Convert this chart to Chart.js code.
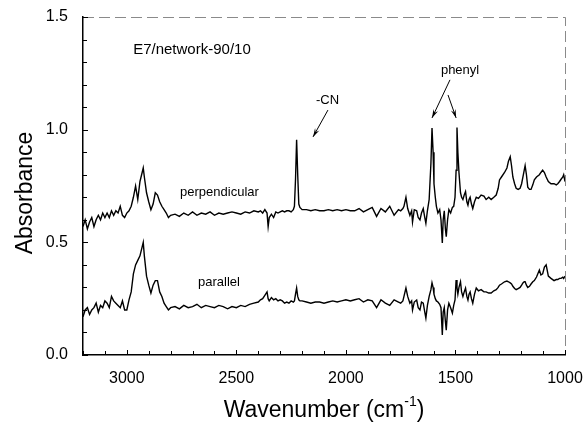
<!DOCTYPE html>
<html>
<head>
<meta charset="utf-8">
<script src="https://cdn.jsdelivr.net/npm/chart.js@4.4.1/dist/chart.umd.min.js"></script>
<style>
  body { margin: 0; background: #fff; }
  #wrap { width: 584px; height: 426px; }
</style>
</head>
<body>
<div id="wrap"><canvas id="irChart"></canvas></div>
<script>
// wavenumber grid (cm-1)
const wavenumbers = [
  3200,3190,3180,3170,3160,3150,3140,3130,3120,3110,3100,3090,3080,3070,3060,3050,3040,3030,3020,3010,
  3000,2990,2980,2970,2960,2950,2940,2930,2925,2920,2910,2900,2890,2880,2870,2860,2850,2840,2830,2820,2810,2800,
  2780,2760,2740,2720,2700,2680,2660,2640,2620,2600,2580,2560,2540,2520,2500,2480,2460,2440,2420,
  2400,2390,2380,2370,2360,2355,2350,2340,2330,2320,2310,2300,2290,2280,2270,2260,2250,2240,2235,2230,2225,2220,2215,2210,2200,
  2180,2160,2140,2120,2100,2080,2060,2040,2020,2000,1980,1960,1940,1920,1900,1880,1860,1840,1820,1800,1780,1760,
  1750,1740,1735,1726,1718,1708,1700,1696,1688,1677,1670,1662,1655,1647,1640,1635,1628,1620,1612,1607,
  1602,1598,1592,1587,1580,1572,1566,1560,1556,1551,1546,1542,1536,1530,1522,1514,1508,1502,1497,1493,
  1489,1484,1477,1472,1466,1460,1454,1448,1443,1438,1433,1427,1421,1413,1405,1395,1383,1370,1360,1348,
  1337,1325,1314,1305,1299,1290,1276,1265,1258,1250,1244,1238,1230,1223,1214,1205,1198,1192,1186,1182,
  1176,1170,1162,1155,1147,1140,1130,1117,1110,1102,1094,1086,1076,1064,1050,1040,1033,1025,1018,1010,
  1006,1000
];

const perpendicular = [
  0.57,0.60,0.56,0.59,0.61,0.57,0.60,0.62,0.60,0.63,0.61,0.63,0.61,0.64,0.62,0.64,0.63,0.66,0.62,0.61,
  0.63,0.64,0.66,0.70,0.75,0.69,0.77,0.81,0.83,0.79,0.72,0.68,0.645,0.67,0.72,0.71,0.68,0.66,0.645,0.63,0.61,0.62,
  0.625,0.615,0.63,0.62,0.635,0.62,0.63,0.625,0.635,0.62,0.63,0.625,0.63,0.635,0.63,0.625,0.635,0.63,0.64,
  0.635,0.64,0.63,0.645,0.63,0.57,0.61,0.625,0.61,0.635,0.63,0.635,0.64,0.635,0.64,0.64,0.635,0.645,0.66,0.78,0.955,0.80,0.67,0.655,0.645,
  0.645,0.64,0.645,0.64,0.64,0.645,0.64,0.645,0.64,0.645,0.64,0.64,0.65,0.635,0.645,0.655,0.615,0.65,0.635,0.66,0.62,0.645,
  0.64,0.65,0.66,0.70,0.65,0.62,0.64,0.59,0.645,0.64,0.61,0.60,0.63,0.65,0.61,0.585,0.64,0.69,0.85,1.007,
  0.90,0.76,0.70,0.66,0.63,0.645,0.60,0.497,0.60,0.64,0.56,0.525,0.60,0.645,0.63,0.655,0.66,0.70,0.82,1.01,
  0.90,0.81,0.72,0.70,0.69,0.71,0.725,0.68,0.665,0.69,0.70,0.67,0.65,0.68,0.70,0.695,0.71,0.705,0.69,0.70,
  0.69,0.70,0.71,0.74,0.777,0.79,0.81,0.83,0.86,0.88,0.84,0.79,0.76,0.74,0.735,0.74,0.76,0.79,0.82,0.84,
  0.80,0.745,0.735,0.735,0.755,0.777,0.79,0.80,0.81,0.82,0.81,0.79,0.77,0.76,0.76,0.755,0.76,0.77,0.78,0.79,
  0.80,0.77
];

const parallel = [
  0.17,0.20,0.21,0.18,0.20,0.21,0.23,0.19,0.22,0.21,0.24,0.23,0.21,0.26,0.24,0.23,0.22,0.21,0.24,0.20,
  0.20,0.245,0.28,0.36,0.40,0.42,0.44,0.48,0.50,0.44,0.35,0.31,0.275,0.31,0.33,0.33,0.28,0.26,0.23,0.215,0.20,0.21,
  0.215,0.205,0.22,0.21,0.215,0.225,0.21,0.22,0.215,0.21,0.22,0.215,0.205,0.215,0.21,0.22,0.215,0.225,0.23,
  0.235,0.245,0.25,0.265,0.28,0.25,0.24,0.255,0.245,0.25,0.24,0.245,0.24,0.23,0.235,0.23,0.24,0.235,0.24,0.27,0.297,0.26,0.245,0.24,0.24,
  0.235,0.23,0.235,0.235,0.23,0.235,0.24,0.235,0.24,0.245,0.24,0.245,0.25,0.235,0.245,0.24,0.21,0.245,0.23,0.22,0.245,0.235,
  0.23,0.24,0.26,0.297,0.26,0.23,0.24,0.20,0.235,0.244,0.21,0.20,0.235,0.23,0.19,0.164,0.22,0.26,0.29,0.32,
  0.30,0.27,0.25,0.24,0.235,0.225,0.21,0.089,0.19,0.21,0.15,0.11,0.20,0.23,0.21,0.186,0.22,0.244,0.333,0.30,
  0.27,0.30,0.325,0.28,0.26,0.28,0.297,0.26,0.244,0.27,0.28,0.25,0.23,0.27,0.297,0.285,0.29,0.28,0.28,0.275,
  0.275,0.285,0.29,0.30,0.31,0.315,0.325,0.328,0.325,0.32,0.315,0.305,0.295,0.29,0.295,0.30,0.31,0.32,0.325,0.325,
  0.31,0.30,0.305,0.315,0.325,0.33,0.346,0.377,0.355,0.36,0.39,0.40,0.35,0.34,0.33,0.335,0.335,0.34,0.34,0.345,
  0.34,0.35
];

if (perpendicular.length !== wavenumbers.length || parallel.length !== wavenumbers.length) {
  throw new Error('length mismatch ' + wavenumbers.length + ' ' + perpendicular.length + ' ' + parallel.length);
}

const FONT = '"Liberation Sans", Arial, sans-serif';

// puntos x/y para el grafico lineal
const puntosPerp = wavenumbers.map((w, i) => ({ x: w, y: perpendicular[i] }));
const puntosPara = wavenumbers.map((w, i) => ({ x: w, y: parallel[i] }));

const esMayor = (v, paso) => Math.abs(v / paso - Math.round(v / paso)) < 1e-6;

// ticks hacia adentro, marco gris, titulos y anotaciones
const decoracion = {
  id: 'decoracion',
  afterDraw(chart) {
    const { ctx, chartArea: a, scales: { x, y } } = chart;
    ctx.save();

    // marco superior/derecho gris discontinuo
    ctx.strokeStyle = '#8a8a8a';
    ctx.lineWidth = 1;
    ctx.setLineDash([11, 5]);
    ctx.beginPath();
    ctx.moveTo(a.left, a.top + 0.5);
    ctx.lineTo(a.right + 0.5, a.top + 0.5);
    ctx.lineTo(a.right + 0.5, a.bottom);
    ctx.stroke();
    ctx.setLineDash([]);

    ctx.strokeStyle = '#000';
    ctx.lineWidth = 1;
    x.ticks.forEach(t => {
      const px = Math.round(x.getPixelForValue(t.value)) + 0.5;
      const len = esMayor(t.value, 500) ? 5 : 4;
      ctx.beginPath();
      ctx.moveTo(px, a.bottom);
      ctx.lineTo(px, a.bottom - len);
      ctx.stroke();
    });
    y.ticks.forEach(t => {
      const py = Math.round(y.getPixelForValue(t.value)) + 0.5;
      const len = esMayor(t.value, 0.5) ? 5 : 4;
      ctx.beginPath();
      ctx.moveTo(a.left, py);
      ctx.lineTo(a.left + len, py);
      ctx.stroke();
    });

    // titulos de ejes
    ctx.fillStyle = '#000';
    ctx.textBaseline = 'middle';
    ctx.save();
    ctx.translate(26, 193);
    ctx.rotate(-Math.PI / 2);
    ctx.textAlign = 'center';
    ctx.font = `23px ${FONT}`;
    ctx.fillText('Absorbance', 0, 0);
    ctx.restore();

    ctx.font = `23px ${FONT}`;
    const p1 = 'Wavenumber (cm', p3 = ')';
    const w1 = ctx.measureText(p1).width;
    const w3 = ctx.measureText(p3).width;
    ctx.font = `14px ${FONT}`;
    const w2 = ctx.measureText('-1').width;
    const total = w1 + w2 + w3;
    let xx = (a.left + a.right) / 2 - total / 2;
    const yy = 411;
    ctx.textAlign = 'left';
    ctx.font = `23px ${FONT}`;
    ctx.fillText(p1, xx, yy);
    ctx.font = `14px ${FONT}`;
    ctx.fillText('-1', xx + w1, yy - 9);
    ctx.font = `23px ${FONT}`;
    ctx.fillText(p3, xx + w1 + w2, yy);

    // anotaciones en coordenadas de datos
    const txt = (s, wx, wy, size, align) => {
      ctx.font = `${size}px ${FONT}`;
      ctx.textAlign = align;
      ctx.fillText(s, x.getPixelForValue(wx), y.getPixelForValue(wy));
    };
    txt('E7/network-90/10', 2971, 1.354, 15, 'left');
    txt('perpendicular', 2757, 0.72, 13, 'left');
    txt('parallel', 2675, 0.324, 13, 'left');
    txt('-CN', 2084, 1.132, 13, 'center');
    txt('phenyl', 1479, 1.265, 13, 'center');

    const flecha = (w0, v0, w1_, v1) => {
      const x0 = x.getPixelForValue(w0), y0 = y.getPixelForValue(v0);
      const x1 = x.getPixelForValue(w1_), y1 = y.getPixelForValue(v1);
      const ang = Math.atan2(y1 - y0, x1 - x0);
      ctx.lineWidth = 1;
      ctx.beginPath();
      ctx.moveTo(x0, y0);
      ctx.lineTo(x1, y1);
      ctx.stroke();
      const L = 9, W = 0.28;
      ctx.beginPath();
      ctx.moveTo(x1, y1);
      ctx.lineTo(x1 - L * Math.cos(ang - W), y1 - L * Math.sin(ang - W));
      ctx.lineTo(x1 - L * 0.6 * Math.cos(ang), y1 - L * 0.6 * Math.sin(ang));
      ctx.lineTo(x1 - L * Math.cos(ang + W), y1 - L * Math.sin(ang + W));
      ctx.closePath();
      ctx.fill();
    };
    flecha(2082, 1.087, 2150, 0.968);
    flecha(1525, 1.221, 1607, 1.052);
    flecha(1534, 1.154, 1497, 1.052);

    ctx.restore();
  }
};

new Chart(document.getElementById('irChart').getContext('2d'), {
  type: 'line',
  data: {
    datasets: [
      {
        label: 'perpendicular',
        data: puntosPerp,
        borderColor: '#000',
        borderWidth: 1.4,
        pointRadius: 0,
        fill: false,
        tension: 0
      },
      {
        label: 'parallel',
        data: puntosPara,
        borderColor: '#000',
        borderWidth: 1.4,
        pointRadius: 0,
        fill: false,
        tension: 0
      }
    ]
  },
  options: {
    responsive: true,
    maintainAspectRatio: false,
    animation: false,
    events: [],
    layout: { padding: { top: 17, right: 19, left: 0, bottom: 0 } },
    plugins: {
      legend: { display: false },
      tooltip: { enabled: false }
    },
    scales: {
      x: {
        type: 'linear',
        reverse: true,
        min: 1000,
        max: 3200,
        afterFit: s => { s.height = 71; s.paddingLeft = 0; s.paddingRight = 0; },
        grid: { display: false, drawTicks: false },
        border: { display: true, color: '#000', width: 1.5 },
        ticks: {
          stepSize: 100,
          autoSkip: false,
          maxRotation: 0,
          padding: 14,
          color: '#000',
          font: { family: FONT, size: 16 },
          callback: v => (esMayor(v, 500) ? String(v) : '')
        }
      },
      y: {
        min: 0,
        max: 1.5,
        afterFit: s => { s.width = 83; s.paddingTop = 0; s.paddingBottom = 0; },
        grid: { display: false, drawTicks: false },
        border: { display: true, color: '#000', width: 1.5 },
        ticks: {
          stepSize: 0.1,
          autoSkip: false,
          padding: 15,
          color: '#000',
          font: { family: FONT, size: 16 },
          callback: v => (esMayor(v, 0.5) ? v.toFixed(1) : '')
        }
      }
    }
  },
  plugins: [decoracion]
});
</script>
</body>
</html>
